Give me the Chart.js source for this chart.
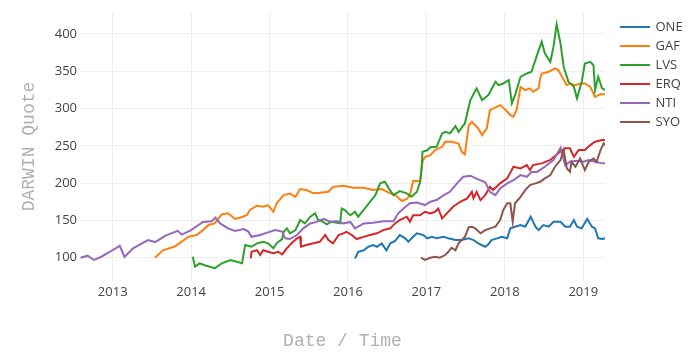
<!DOCTYPE html>
<html><head><meta charset="utf-8">
<script src="https://cdn.jsdelivr.net/npm/chart.js@4/dist/chart.umd.min.js"></script>
<style>
html,body{margin:0;padding:0;background:#fff;}
#wrap{position:relative;width:700px;height:352px;overflow:hidden;}
#c{position:absolute;left:0;top:0;}
.lg{position:absolute;left:620px;height:19px;font-family:"Open Sans",sans-serif;font-size:13px;color:#444;white-space:nowrap;}
.lg i{position:absolute;left:0;top:8.5px;width:30px;height:2px;}
.lg span{position:absolute;left:35.5px;top:0;line-height:19px;}
</style></head><body>
<div id="wrap"><canvas id="c" width="700" height="352"></canvas><div id="legend"></div></div>
<script>
// ---- data (x = decimal year, y = quote) ----
const seriesNames = ["ONE", "GAF", "LVS", "ERQ", "NTI", "SYO"];
const seriesColors = ["#1f77b4", "#ff7f0e", "#2ca02c", "#d62728", "#9467bd", "#8c564b"];
const yTickValues = [100, 150, 200, 250, 300, 350, 400];
const xTickYears = [2013, 2014, 2015, 2016, 2017, 2018, 2019];

const ONE = [[2016.09,99],[2016.13,108],[2016.20,110],[2016.26,114.7],[2016.32,117],[2016.37,114.7],[2016.43,119.3],[2016.49,110],[2016.54,119.3],[2016.60,122.4],[2016.66,130.4],[2016.73,126],[2016.77,121.4],[2016.83,128],[2016.88,132.7],[2016.96,130.4],[2017.01,126],[2017.07,128],[2017.13,126],[2017.22,128],[2017.28,126],[2017.37,123.7],[2017.45,123.7],[2017.54,126],[2017.60,123.7],[2017.66,119.3],[2017.75,114.7],[2017.79,118],[2017.83,123.7],[2017.90,126],[2017.96,128],[2018.03,126],[2018.07,139.4],[2018.13,141.6],[2018.20,143.8],[2018.26,141.6],[2018.33,155],[2018.39,141.6],[2018.43,137],[2018.49,143.8],[2018.56,141.6],[2018.62,148.3],[2018.71,148.3],[2018.77,141.6],[2018.83,141.6],[2018.88,150.5],[2018.92,141.6],[2018.98,139.4],[2019.05,152],[2019.11,141.6],[2019.15,139.4],[2019.19,126],[2019.24,125],[2019.28,126]];

const GAF = [[2013.54,100],[2013.64,110],[2013.79,115],[2013.88,121.5],[2013.96,128],[2014.07,130.4],[2014.15,137],[2014.22,144],[2014.30,146],[2014.35,152.8],[2014.39,158],[2014.47,159.5],[2014.56,152],[2014.62,153.6],[2014.71,157],[2014.75,164],[2014.84,169.7],[2014.92,168.3],[2014.98,170.6],[2015.05,161.6],[2015.09,173],[2015.18,184],[2015.26,186],[2015.33,181.7],[2015.39,192],[2015.47,190.7],[2015.56,186.3],[2015.64,187],[2015.75,188.4],[2015.81,195],[2015.94,196.5],[2016.07,193.8],[2016.20,193.8],[2016.32,190.7],[2016.43,192],[2016.54,186.3],[2016.60,184],[2016.69,176],[2016.75,178.7],[2016.79,184],[2016.83,202.8],[2016.92,202.8],[2016.95,228.6],[2016.98,235],[2017.05,237.6],[2017.11,244.3],[2017.20,248.7],[2017.24,255.4],[2017.32,255.4],[2017.41,253],[2017.45,242],[2017.49,238.6],[2017.54,277.8],[2017.58,282],[2017.66,273.4],[2017.71,264.4],[2017.77,273.4],[2017.81,298],[2017.85,300],[2017.94,304.6],[2018.03,296],[2018.07,291],[2018.11,289],[2018.15,298],[2018.20,329],[2018.26,324.7],[2018.32,327],[2018.36,322.4],[2018.43,327],[2018.45,340.4],[2018.47,347],[2018.56,349.3],[2018.64,353.8],[2018.68,351.5],[2018.73,342.5],[2018.79,331.4],[2018.83,333.6],[2018.90,331.4],[2018.96,333.6],[2019.02,333.6],[2019.09,329],[2019.15,315.7],[2019.22,319.3],[2019.28,319.3]];

const LVS = [[2014.02,101.3],[2014.05,88],[2014.11,92.5],[2014.19,89.3],[2014.24,88],[2014.30,85.8],[2014.39,92.5],[2014.50,97],[2014.58,94.6],[2014.65,92.5],[2014.67,106],[2014.69,117],[2014.77,114.7],[2014.84,119.3],[2014.92,121.4],[2014.98,119.3],[2015.05,112.6],[2015.09,119.3],[2015.16,125],[2015.18,134.8],[2015.22,139.4],[2015.26,132.7],[2015.33,137],[2015.39,150.5],[2015.45,146],[2015.52,155],[2015.58,159.5],[2015.62,150.5],[2015.67,149],[2015.73,144.8],[2015.79,148.3],[2015.90,146],[2015.92,166],[2015.96,164],[2016.03,157],[2016.09,161.6],[2016.13,155],[2016.20,164],[2016.28,175],[2016.35,184],[2016.41,199.7],[2016.47,201.8],[2016.52,193],[2016.58,184],[2016.66,189.4],[2016.75,186.3],[2016.81,181.7],[2016.88,188.4],[2016.92,201.8],[2016.94,222],[2016.95,242],[2017.01,244],[2017.05,248],[2017.13,248.7],[2017.20,266.7],[2017.24,268.8],[2017.30,266.7],[2017.37,276.5],[2017.41,268.8],[2017.49,280],[2017.56,311.3],[2017.64,327],[2017.71,311.3],[2017.79,318],[2017.88,336],[2017.92,331.4],[2017.98,333.6],[2018.05,338],[2018.09,307],[2018.13,318],[2018.20,342.5],[2018.28,347],[2018.34,349.3],[2018.41,371.6],[2018.47,389.4],[2018.51,374],[2018.58,362.6],[2018.62,382.6],[2018.66,412.8],[2018.71,387],[2018.75,356],[2018.81,336],[2018.88,329],[2018.92,313.6],[2018.98,336],[2019.02,360.4],[2019.09,362.6],[2019.13,358],[2019.15,324.7],[2019.19,342.5],[2019.24,327],[2019.28,324.7]];

const ERQ = [[2014.76,99],[2014.77,108],[2014.84,110],[2014.88,103.6],[2014.92,110],[2014.98,108],[2015.05,106],[2015.11,108],[2015.16,104.6],[2015.22,112.6],[2015.28,119.3],[2015.35,126],[2015.39,128],[2015.40,114.7],[2015.47,117],[2015.56,119.3],[2015.64,121.4],[2015.71,130.4],[2015.75,123.7],[2015.81,119.3],[2015.88,130.4],[2015.94,132.7],[2015.98,134.8],[2016.05,130.4],[2016.11,125],[2016.20,128],[2016.28,130.4],[2016.37,132.7],[2016.45,137],[2016.54,139.4],[2016.60,146],[2016.66,150.5],[2016.75,155],[2016.79,148.3],[2016.83,157],[2016.92,157],[2016.98,161.6],[2017.05,159.5],[2017.11,161.6],[2017.15,166],[2017.20,152.8],[2017.26,159.5],[2017.34,168.4],[2017.43,175],[2017.52,179.6],[2017.58,188.4],[2017.60,179.6],[2017.64,188.4],[2017.69,177.3],[2017.75,184],[2017.81,195],[2017.85,190.7],[2017.94,199.7],[2018.03,206.4],[2018.11,222],[2018.20,219.8],[2018.28,224.2],[2018.32,217.5],[2018.36,224.2],[2018.47,226.5],[2018.58,231],[2018.68,240],[2018.77,246.6],[2018.83,246.6],[2018.88,235.3],[2018.94,244.3],[2019.02,244.3],[2019.09,251],[2019.15,255.4],[2019.24,257.7],[2019.28,257.7]];

const NTI = [[2012.59,100],[2012.68,102.7],[2012.76,97],[2012.85,101],[2012.98,109],[2013.09,116],[2013.15,101],[2013.26,112.6],[2013.45,123.7],[2013.54,121],[2013.68,130],[2013.83,136],[2013.88,131],[2014.00,137],[2014.15,148],[2014.26,149],[2014.31,153.6],[2014.37,146],[2014.47,139.4],[2014.56,136],[2014.67,138.5],[2014.73,135],[2014.77,128],[2014.88,130.4],[2014.98,134],[2015.07,137],[2015.16,135],[2015.20,126],[2015.26,125],[2015.35,130.4],[2015.43,139.4],[2015.52,146],[2015.60,148],[2015.69,152],[2015.77,148.3],[2015.86,149],[2015.94,146],[2016.03,148],[2016.09,139.4],[2016.20,146],[2016.32,147],[2016.45,149],[2016.58,149],[2016.64,159.5],[2016.73,168],[2016.79,173],[2016.88,174],[2016.98,170.6],[2017.05,175],[2017.13,177.3],[2017.22,184],[2017.30,188.4],[2017.39,199.7],[2017.47,208.5],[2017.56,210],[2017.64,206],[2017.75,201],[2017.81,188.4],[2017.88,184],[2017.94,193],[2018.03,199.7],[2018.11,204],[2018.20,210.8],[2018.28,208.5],[2018.34,215],[2018.41,215],[2018.51,222],[2018.62,231],[2018.71,247.4],[2018.77,224],[2018.83,228.6],[2018.92,230],[2019.00,228.6],[2019.07,231],[2019.15,228.6],[2019.24,226.5],[2019.28,226.5]];

const SYO = [[2016.93,100],[2016.98,97],[2017.05,100],[2017.11,101.3],[2017.17,100],[2017.24,103.6],[2017.28,108],[2017.32,113.4],[2017.37,110],[2017.41,119.3],[2017.45,123.7],[2017.49,128],[2017.54,141],[2017.58,141.6],[2017.62,139.4],[2017.69,132.7],[2017.75,137],[2017.81,139.4],[2017.88,141.6],[2017.94,150.5],[2017.98,164],[2018.03,173],[2018.07,173],[2018.10,148.3],[2018.13,173],[2018.20,181.7],[2018.26,190.7],[2018.32,197.4],[2018.39,199.7],[2018.45,201.8],[2018.51,206.4],[2018.58,210.8],[2018.64,222],[2018.71,231],[2018.75,244.3],[2018.79,219.8],[2018.83,215.3],[2018.85,228.6],[2018.90,222],[2018.96,233],[2019.02,217.5],[2019.07,228.6],[2019.13,233],[2019.17,228.6],[2019.22,244.3],[2019.26,253.3],[2019.28,251]];

const seriesData = [ONE, GAF, LVS, ERQ, NTI, SYO];

// ---- chart ----
const datasets = seriesNames.map((name, i) => ({
  label: name,
  data: seriesData[i].map(p => ({x: p[0], y: p[1]})),
  borderColor: seriesColors[i],
  backgroundColor: seriesColors[i],
  borderWidth: 2,
  pointRadius: 0,
  tension: 0,
  fill: false,
  order: seriesNames.length - i
}));

const tickFont = {family: '"Open Sans", sans-serif', size: 13};
const titleFont = {family: '"Liberation Mono", "Courier New", monospace', size: 18};

new Chart(document.getElementById('c'), {
  type: 'line',
  data: {datasets},
  options: {
    responsive: false,
    animation: false,
    devicePixelRatio: 1,
    layout: {padding: {left: 0, top: 12, right: 95, bottom: 0}},
    plugins: {legend: {display: false}, tooltip: {enabled: false}},
    scales: {
      x: {
        type: 'linear',
        min: 2012.583,
        max: 2019.277,
        afterBuildTicks: (axis) => { axis.ticks = xTickYears.map(v => ({value: v})); },
        afterFit: (axis) => { axis.height = 71; },
        grid: {color: '#eeeeee', lineWidth: 1, drawTicks: false},
        border: {display: false},
        ticks: {font: tickFont, color: '#444', padding: 3, maxRotation: 0,
                callback: (v) => String(v)},
        title: {display: true, text: 'Date / Time', color: '#b0b0b0',
                font: titleFont, padding: {top: 0, bottom: 0}}
      },
      y: {
        type: 'linear',
        min: 68.8,
        max: 429.4,
        afterBuildTicks: (axis) => { axis.ticks = yTickValues.map(v => ({value: v})); },
        afterFit: (axis) => { axis.width = 80; },
        grid: {color: '#eeeeee', lineWidth: 1, drawTicks: false},
        border: {display: false},
        ticks: {font: tickFont, color: '#444', padding: 3, callback: (v) => String(v)},
        title: {display: true, text: 'DARWIN Quote', color: '#b0b0b0',
                font: titleFont, padding: {top: 18, bottom: 0}}
      }
    }
  }
});

// ---- legend (HTML, built from the same arrays) ----
const lg = document.getElementById('legend');
seriesNames.forEach((name, i) => {
  const d = document.createElement('div');
  d.className = 'lg';
  d.style.top = (17.2 + i * 19.0) + 'px';
  const sw = document.createElement('i');
  sw.style.background = seriesColors[i];
  const t = document.createElement('span');
  t.textContent = name;
  d.appendChild(sw); d.appendChild(t);
  lg.appendChild(d);
});
</script>
</body></html>
